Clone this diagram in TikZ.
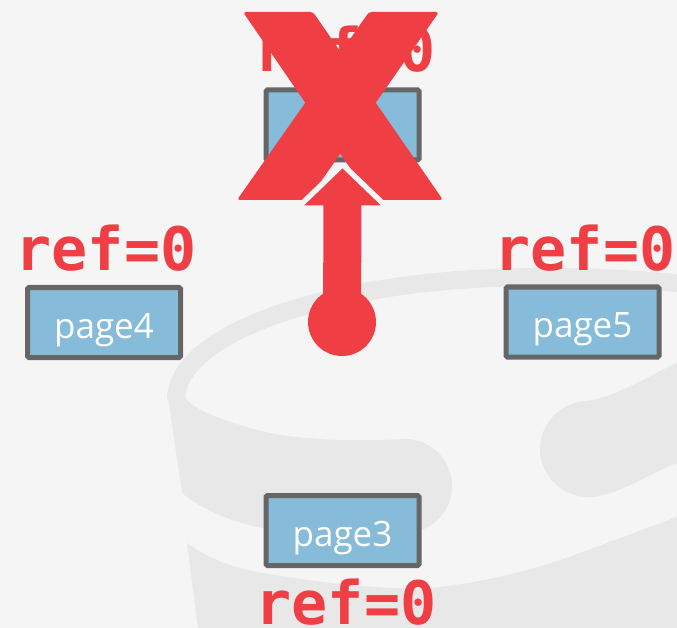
\documentclass[tikz,border=0pt]{standalone}
\usepackage{fontspec}
\setmainfont{Open Sans}
\newfontfamily\reffont{DejaVu Sans Mono}
\usetikzlibrary{calc}
\definecolor{bg}{HTML}{F5F5F5}
\definecolor{wm}{HTML}{E8E8E8}
\definecolor{xred}{HTML}{EF3E44}
\definecolor{boxblue}{HTML}{86BBD9}
\definecolor{boxedge}{HTML}{666666}
\tikzset{
  pagebox/.style={draw=boxedge, line width=5pt, fill=boxblue, rounded corners=1.5pt,
    minimum width=153pt, minimum height=70pt, inner sep=0pt, text=white,
    font=\fontsize{35}{35}\selectfont, text height=33pt, text depth=2pt},
  reflabel/.style={text=xred, font=\reffont\bfseries\fontsize{60}{60}\selectfont,
    inner sep=0pt, anchor=base, text depth=0pt},
  ptrdot/.style={circle, fill=xred, minimum size=68pt, inner sep=0pt},
}
\begin{document}
\begin{tikzpicture}[x=1pt,y=-1pt]
\useasboundingbox (0,0) rectangle (677,628);
\fill[bg] (0,0) rectangle (677,628);
% database watermark
\begin{scope}
\clip (0,0) rectangle (677,628);
\draw[wm, line width=18pt] (176,400) .. controls (176,331) and (339,277) .. (540,277)
  .. controls (620,277) and (690,282) .. (760,295);
\fill[wm] (168,397) -- (182,493) .. controls (200,508) and (230,522) .. (263,528)
  .. controls (310,534) and (360,534) .. (405,533)
  .. controls (431,533) and (452,512) .. (452,486)
  .. controls (452,460) and (431,439) .. (405,439)
  .. controls (350,442) and (290,440) .. (250,428)
  .. controls (215,418) and (190,407) .. (185,397) -- cycle;
\fill[wm] (588,401) .. controls (620,395) and (650,375) .. (677,363) -- (760,330) -- (760,435)
  -- (677,463) .. controls (640,478) and (615,497) .. (588,497)
  .. controls (562,497) and (540,475) .. (540,449)
  .. controls (540,423) and (562,401) .. (588,401) -- cycle;
\fill[wm] (187,543) .. controls (210,560) and (235,568) .. (263,573)
  .. controls (330,585) and (400,590) .. (430,588)
  .. controls (490,582) and (540,568) .. (580,553)
  .. controls (620,538) and (650,527) .. (677,517) -- (760,490) -- (760,640) -- (200,640) -- (198,628) -- cycle;
\end{scope}
% page boxes
\node[pagebox] (top) at (342.5,125) {};
\node[pagebox] (p4) at (104,322.5) {page4};
\node[pagebox] (p5) at (582.5,322) {page5};
\node[pagebox] (p3) at (342.5,530.5) {page3};
% labels
\node[reflabel] (rtop) at (345,72) {ref=0};
\node[reflabel] (r4) at (106,270) {ref=0};
\node[reflabel] (r5) at (585,270) {ref=0};
\node[reflabel] (r3) at (346,624) {ref=0};
% big X
\fill[xred, rounded corners=3pt] (243,12) -- (313,12) -- (443,200) -- (372,200) -- cycle;
\fill[xred, rounded corners=3pt] (369,12) -- (439,12) -- (308,200) -- (237,200) -- cycle;
% pointer arrow
\node[ptrdot] (ptr) at (342,322) {};
\coordinate (tip) at ($(top.south)+(0,6)$);
\coordinate (hb) at ($(tip)+(0,37)$);
\begin{scope}
\clip (0,0) rectangle ($(hb)+(400,0)$);
\draw[bg, line width=11pt, line join=round] ($(hb)+(-38.5,0)$) -- (tip) -- ($(hb)+(38.5,0)$);
\end{scope}
\draw[xred, line width=38pt] (ptr.center) -- ($(hb)+(0,-4)$);
\fill[xred] ($(hb)+(-38.5,0)$) -- (tip) -- ($(hb)+(38.5,0)$) -- cycle;
\end{tikzpicture}
\end{document}
